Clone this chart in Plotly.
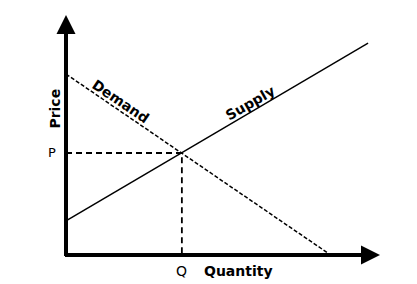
import plotly.graph_objects as go

# Economic model values (quantity, price), axis range 0..10
demand_q = [0.0, 8.34]
demand_p = [7.54, 0.08]
supply_q = [0.0, 9.62]
supply_p = [1.42, 8.83]
eq_q = 3.69
eq_p = 4.25
x_max = 10
y_max = 10

fig = go.Figure()

# Demand (dashed)
fig.add_trace(go.Scatter(x=demand_q, y=demand_p, mode="lines",
                         line=dict(color="black", width=1.5, dash="4px,2px"),
                         hoverinfo="skip"))
# Supply (solid)
fig.add_trace(go.Scatter(x=supply_q, y=supply_p, mode="lines",
                         line=dict(color="black", width=1.4),
                         hoverinfo="skip"))
# Equilibrium guides
fig.add_trace(go.Scatter(x=[0, eq_q, eq_q], y=[eq_p, eq_p, 0], mode="lines",
                         line=dict(color="black", width=1.8, dash="6px,4px"),
                         hoverinfo="skip"))

ann = []
# Axes with arrows
ann.append(dict(x=0, y=y_max, ax=0, ay=-0.1, xref="x", yref="y", axref="x", ayref="y",
                showarrow=True, arrowhead=2, arrowsize=0.95, arrowwidth=4,
                arrowcolor="black", text=""))
ann.append(dict(x=x_max, y=0, ax=-0.08, ay=0, xref="x", yref="y", axref="x", ayref="y",
                showarrow=True, arrowhead=2, arrowsize=0.95, arrowwidth=4,
                arrowcolor="black", text=""))

bold = dict(family="DejaVu Sans", size=14, color="black")
reg = dict(family="DejaVu Sans", size=14, color="black")
c = dict(xanchor="center", yanchor="middle", showarrow=False)
ann.append(dict(x=-0.035, y=0.61, xref="paper", yref="paper", text="<b>Price</b>",
                textangle=-90, font=bold, **c))
ann.append(dict(x=0.55, y=-0.066, xref="paper", yref="paper", text="<b>Quantity</b>",
                font=bold, **c))
ann.append(dict(x=-0.045, y=0.427, xref="paper", yref="paper", text="P",
                font=dict(family="DejaVu Sans", size=13, color="black"), **c))
ann.append(dict(x=eq_q / x_max, y=-0.068, xref="paper", yref="paper", text="Q",
                font=reg, **c))
ann.append(dict(x=1.72, y=6.40, xref="x", yref="y", text="<b>Demand</b>", textangle=34,
                font=dict(family="DejaVu Sans", size=14, color="black"), **c))
ann.append(dict(x=5.86, y=6.35, xref="x", yref="y", text="<b>Supply</b>", textangle=-30,
                font=dict(family="DejaVu Sans", size=14, color="black"), **c))

fig.update_layout(
    width=417, height=284,
    margin=dict(l=66, r=37, t=15, b=29),
    paper_bgcolor="white", plot_bgcolor="white",
    showlegend=False,
    xaxis=dict(range=[0, x_max], visible=False, fixedrange=True),
    yaxis=dict(range=[0, y_max], visible=False, fixedrange=True),
    annotations=ann,
)
fig.write_html("out.html")
